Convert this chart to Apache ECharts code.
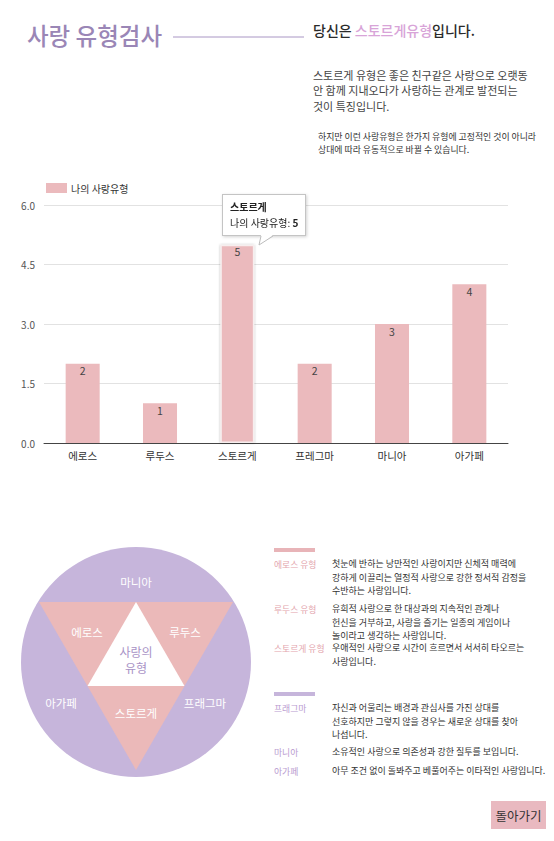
<!DOCTYPE html>
<html>
<head>
<meta charset="utf-8">
<script src="https://cdn.jsdelivr.net/npm/echarts@6/dist/echarts.min.js"></script>
<style>
html,body{margin:0;padding:0;background:#fff;}
#chart{width:554px;height:841px;}
</style>
</head>
<body>
<div id="chart"></div>
<script>
// ---- data ----
const categories = ['에로스', '루두스', '스토르게', '프레그마', '마니아', '아가페'];
const values = [2, 1, 5, 2, 3, 4];
const seriesName = '나의 사랑유형';
const yTicks = [0, 1.5, 3.0, 4.5, 6.0];
const selectedIndex = 2;

const descLabels = ['에로스 유형', '루두스 유형', '스토르게 유형', '프래그마', '마니아', '아가페'];
const descTexts = [
  '첫눈에 반하는 낭만적인 사랑이지만 신체적 매력에\n강하게 이끌리는 열정적 사랑으로 강한 정서적 감정을\n수반하는 사랑입니다.',
  '유희적 사랑으로 한 대상과의 지속적인 관계나\n헌신을 거부하고, 사랑을 즐기는 일종의 게임이나\n놀이라고 생각하는 사랑입니다.',
  '우애적인 사랑으로 시간이 흐르면서 서서히 타오르는\n사랑입니다.',
  '자신과 어울리는 배경과 관심사를 가진 상대를\n선호하지만 그렇지 않을 경우는 새로운 상대를 찾아\n나섭니다.',
  '소유적인 사랑으로 의존성과 강한 질투를 보입니다.',
  '아무 조건 없이 돌봐주고 베풀어주는 이타적인 사랑입니다.'
];
const diagramLabels = ['마니아', '에로스', '루두스', '아가페', '스토르게', '프래그마'];

// ---- styles ----
const FONT = '"Noto Sans CJK KR", "Noto Sans", sans-serif';
const PURPLE = '#9a86b6';
const LAVENDER = '#c6b5db';
const PINK = '#ebb9b9';
const BAR = '#ebbabd';

const chart = echarts.init(document.getElementById('chart'), null, { renderer: 'svg' });

function txt(x, y, text, size, color, extra) {
  return {
    type: 'text', x: x, y: y, silent: true,
    style: Object.assign({ text: text, fill: color, fontSize: size, fontFamily: FONT, verticalAlign: 'middle', align: 'left' }, extra || {})
  };
}

const graphics = [];
// Header
graphics.push(txt(27, 35, '사랑 유형검사', 23.5, PURPLE, { fontWeight: 500 }));
graphics.push({ type: 'line', silent: true, shape: { x1: 173, y1: 37, x2: 304, y2: 37 }, style: { stroke: '#a996c4', lineWidth: 1 } });
graphics.push({
  type: 'text', x: 313, y: 30, silent: true,
  style: {
    text: '{a|당신은 }{b|' + categories[selectedIndex] + '유형}{a|입니다.}',
    verticalAlign: 'middle',
    rich: {
      a: { fontSize: 14, fill: '#2a2a2a', fontFamily: FONT, fontWeight: 500 },
      b: { fontSize: 14, fill: '#d8a4d8', fontFamily: FONT, fontWeight: 500 }
    }
  }
});
graphics.push(txt(313, 67, '스토르게 유형은 좋은 친구같은 사랑으로 오랫동\n안 함께 지내오다가 사랑하는 관계로 발전되는\n것이 특징입니다.', 11, '#444', { verticalAlign: 'top', lineHeight: 15.5 }));
graphics.push(txt(318, 130, '하지만 이런 사랑유형은 한가지 유형에 고정적인 것이 아니라\n상대에 따라 유동적으로 바뀔 수 있습니다.', 8.9, '#333', { verticalAlign: 'top', lineHeight: 13 }));

// Diagram
const cx = 136, cy = 662, r = 115;
graphics.push({ type: 'circle', silent: true, shape: { cx: cx, cy: cy, r: r }, style: { fill: LAVENDER } });
graphics.push({ type: 'polygon', silent: true, shape: { points: [[39, 602], [233, 602], [136, 770]] }, style: { fill: PINK } });
graphics.push({ type: 'polygon', silent: true, shape: { points: [[136, 602], [87.5, 686], [184.5, 686]] }, style: { fill: '#fff' } });
const dlPos = [[136, 582], [87, 632], [185, 632], [61, 703], [136, 713], [205, 703]];
diagramLabels.forEach(function (t, i) {
  graphics.push(txt(dlPos[i][0], dlPos[i][1], t, 11.5, '#fff', { align: 'center' }));
});
graphics.push(txt(136, 651, '사랑의', 12, '#a892c6', { align: 'center' }));
graphics.push(txt(136, 667, '유형', 12, '#a892c6', { align: 'center' }));

// Descriptions
graphics.push({ type: 'rect', silent: true, shape: { x: 274, y: 548, width: 41, height: 4 }, style: { fill: '#e8b4b8' } });
graphics.push({ type: 'rect', silent: true, shape: { x: 274, y: 692, width: 41, height: 4 }, style: { fill: LAVENDER } });
const descY = [564, 609, 648, 708, 752, 771];
const LH = 13.2;
descLabels.forEach(function (t, i) {
  graphics.push(txt(274, descY[i], t, 8.8, i < 3 ? '#e3a5ad' : '#b99bd0'));
  graphics.push(txt(332, descY[i] - LH / 2, descTexts[i], 9, '#333', { verticalAlign: 'top', lineHeight: LH }));
});

// Button
graphics.push({ type: 'rect', silent: true, shape: { x: 491, y: 801, width: 55, height: 28 }, style: { fill: '#e9b9c0' } });
graphics.push(txt(518.5, 815, '돌아가기', 12.5, '#333', { align: 'center' }));

const arrowSvg = '<svg style="position:absolute;left:27px;bottom:-15px;overflow:visible" width="16" height="10">' +
  '<polygon points="4,-1 16,-1 2,9" fill="#fff"/>' +
  '<polyline points="16,0 2,9 4,0" fill="none" stroke="#bbb" stroke-width="1"/></svg>';

const option = {
  animation: false,
  textStyle: { fontFamily: FONT },
  legend: {
    left: 46, top: 183, itemWidth: 21, itemHeight: 10, itemGap: 6, padding: 0,
    icon: 'rect',
    data: [seriesName],
    textStyle: { fontSize: 10, color: '#333', fontFamily: FONT, padding: [0, 0, 0, -1] }
  },
  grid: { left: 44, right: 46, top: 205, bottom: 398 },
  tooltip: {
    trigger: 'item',
    triggerOn: 'none',
    alwaysShowContent: true,
    transitionDuration: 0,
    backgroundColor: '#fff',
    borderColor: '#c4c4c4',
    borderWidth: 1,
    borderRadius: 0,
    padding: [4, 7],
    textStyle: { fontSize: 10, color: '#222', fontFamily: FONT, lineHeight: 15 },
    extraCssText: 'box-shadow:1px 1px 3px rgba(0,0,0,0.18);border-radius:0;',
    position: function (point, params, dom, rect, size) {
      return [rect.x + 2, rect.y - size.contentSize[1] - 9];
    },
    formatter: function (p) {
      return '<div style="position:relative;line-height:16px">' +
        '<b>' + p.name + '</b><br/>' + p.seriesName + ': <b>' + p.value + '</b>' + arrowSvg + '</div>';
    }
  },
  xAxis: {
    type: 'category',
    data: categories,
    axisLine: { lineStyle: { color: '#444', width: 1 } },
    axisTick: { show: false },
    axisLabel: { color: '#333', fontSize: 10.5, margin: 7, fontFamily: FONT }
  },
  yAxis: {
    type: 'value',
    min: yTicks[0], max: yTicks[yTicks.length - 1], interval: yTicks[1] - yTicks[0],
    axisLine: { show: false },
    axisTick: { show: false },
    splitLine: { lineStyle: { color: '#e2e2e2' } },
    axisLabel: { color: '#555', fontSize: 10, margin: 9, fontFamily: FONT, formatter: function (v) { return v.toFixed(1); } }
  },
  series: [{
    name: seriesName,
    type: 'bar',
    barWidth: '44%',
    itemStyle: { color: BAR },
    label: { show: true, position: 'insideTop', distance: 2, color: '#444', fontSize: 10.5, fontFamily: FONT },
    data: values.map(function (v, i) {
      return i === selectedIndex ? {
        value: v,
        itemStyle: { color: BAR, borderColor: '#f7eeee', borderWidth: 1.5, shadowBlur: 2, shadowColor: 'rgba(0,0,0,0.3)' }
      } : v;
    })
  }],
  graphic: { elements: graphics }
};
chart.setOption(option);
chart.dispatchAction({ type: 'showTip', seriesIndex: 0, dataIndex: selectedIndex });
</script>
</body>
</html>
